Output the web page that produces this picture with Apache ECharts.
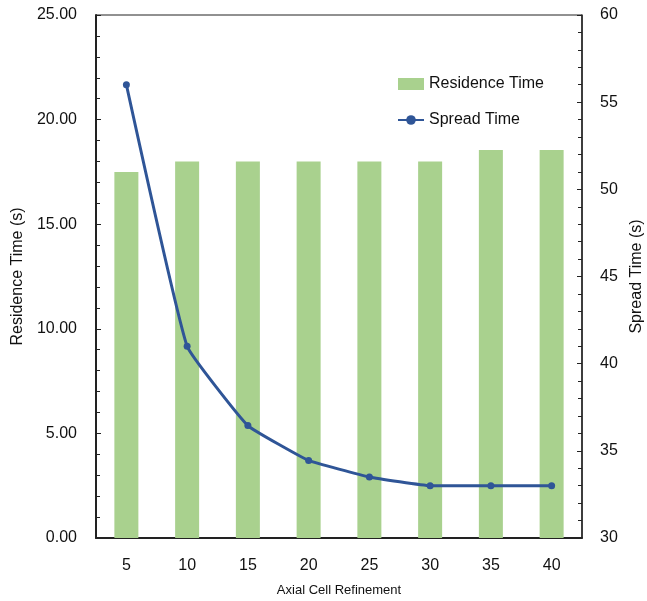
<!DOCTYPE html>
<html>
<head>
<meta charset="utf-8">
<script src="https://cdn.jsdelivr.net/npm/echarts@6/dist/echarts.min.js"></script>
<style>html,body{margin:0;padding:0;background:#fff}#c{width:647px;height:601px}</style>
</head>
<body>
<div id="c"></div>
<script>
var categories = ['5', '10', '15', '20', '25', '30', '35', '40'];
var residenceTime = [17.5, 18.0, 18.0, 18.0, 18.0, 18.0, 18.55, 18.55];
var spreadTime = [56.0, 41.0, 36.45, 34.45, 33.5, 33.0, 33.0, 33.0];

var font = 'Liberation Sans';
var chart = echarts.init(document.getElementById('c'), null, {renderer: 'canvas'});
chart.setOption({
  animation: false,
  textStyle: {fontFamily: font},
  grid: {left: 96, right: 65, top: 15, bottom: 63, show: true, borderColor: '#222', borderWidth: 1,
    containLabel: false, outerBoundsMode: 'none'},
  legend: {
    orient: 'vertical', left: 397, top: 76, padding: 0, itemWidth: 26, itemHeight: 12, itemGap: 20,
    textStyle: {fontFamily: font, fontSize: 16, color: '#111'},
    data: [
      {name: 'Residence Time', icon: 'rect'},
      {name: 'Spread Time'}
    ]
  },
  xAxis: {
    type: 'category', data: categories, boundaryGap: true,
    name: 'Axial Cell Refinement', nameLocation: 'middle', nameGap: 46,
    nameTextStyle: {fontFamily: font, fontSize: 13, color: '#111'},
    axisLine: {show: true, lineStyle: {color: '#222', width: 2}},
    axisTick: {show: false},
    axisLabel: {fontFamily: font, fontSize: 16, color: '#111', margin: 20},
    splitLine: {show: false}
  },
  yAxis: [
    {
      type: 'value', min: 0, max: 25, interval: 5,
      name: 'Residence Time (s)', nameLocation: 'middle', nameGap: 67, nameRotate: 90,
      nameTextStyle: {fontFamily: font, fontSize: 16, color: '#111'},
      axisLine: {show: true, lineStyle: {color: '#222', width: 2}},
      axisTick: {show: true, inside: true, length: 5, lineStyle: {color: '#222'}},
      minorTick: {show: true, splitNumber: 5, length: 4, lineStyle: {color: '#222'}},
      axisLabel: {fontFamily: font, fontSize: 16, color: '#111', margin: 19,
        formatter: function (v) { return v.toFixed(2); }},
      splitLine: {show: false}
    },
    {
      type: 'value', min: 30, max: 60, interval: 5, position: 'right',
      name: 'Spread Time (s)', nameLocation: 'middle', nameGap: 46, nameRotate: 90,
      nameTextStyle: {fontFamily: font, fontSize: 16, color: '#111'},
      axisLine: {show: true, lineStyle: {color: '#222', width: 1.5}},
      axisTick: {show: true, inside: true, length: 5, lineStyle: {color: '#222'}},
      minorTick: {show: true, splitNumber: 5, length: 4, lineStyle: {color: '#222'}},
      axisLabel: {fontFamily: font, fontSize: 16, color: '#111', margin: 18},
      splitLine: {show: false}
    }
  ],
  series: [
    {
      name: 'Residence Time', type: 'bar', yAxisIndex: 0, data: residenceTime,
      barWidth: 24, itemStyle: {color: '#A9D18E'}
    },
    {
      name: 'Spread Time', type: 'line', yAxisIndex: 1, data: spreadTime,
      smooth: 0.1, symbol: 'circle', symbolSize: 7,
      lineStyle: {color: '#2F5597', width: 3},
      itemStyle: {color: '#2F5597'}
    }
  ]
});
</script>
</body>
</html>
